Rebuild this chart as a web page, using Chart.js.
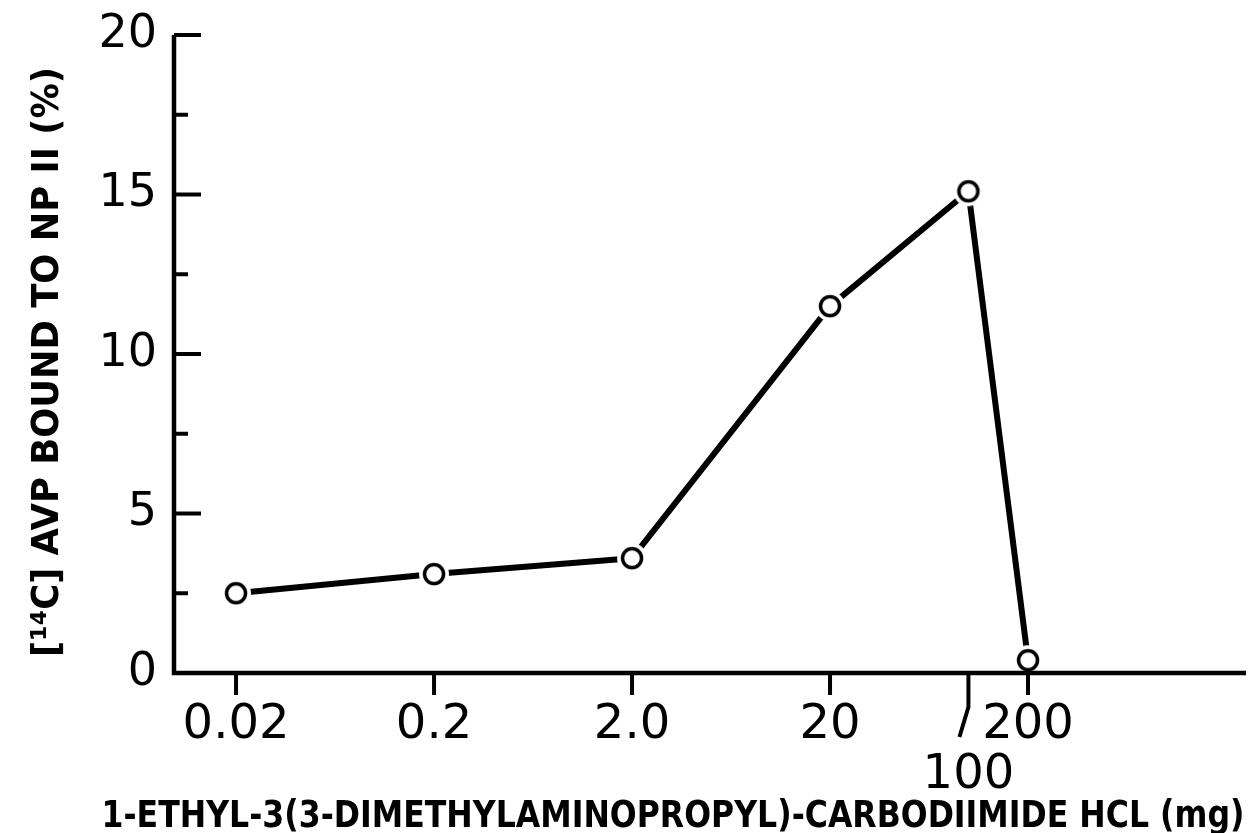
<!DOCTYPE html>
<html>
<head>
<meta charset="utf-8">
<script src="https://cdn.jsdelivr.net/npm/chart.js@4.4.1/dist/chart.umd.min.js"></script>
<style>
  html, body { margin: 0; padding: 0; background: #fff; overflow: hidden; }
  canvas { display: block; }
</style>
</head>
<body>
<canvas id="chart" width="1252" height="833"></canvas>
<script>
// carbodiimide dose (mg) vs % of [14C]AVP bound to NP II
const doses = [0.02, 0.2, 2.0, 20, 100, 200];
const boundPct = [2.5, 3.1, 3.6, 11.5, 15.1, 0.4];

const xTicks = [0.02, 0.2, 2.0, 20, 100, 200];
const xTickLabels = ['0.02', '0.2', '2.0', '20', ['', '100'], '200'];
const yTicks = [0, 2.5, 5, 7.5, 10, 12.5, 15, 17.5, 20];
const yTickLabels = ['0', '', '5', '', '10', '', '15', '', '20'];

const xTitle = '1-ETHYL-3(3-DIMETHYLAMINOPROPYL)-CARBODIIMIDE HCL (mg)';
const yTitle = '[¹⁴C] AVP BOUND TO NP II (%)';

// open circle with a white halo so the line stops short of it
function ringMarker() {
  const c = document.createElement('canvas');
  c.width = c.height = 32;
  const g = c.getContext('2d');
  g.fillStyle = '#fff';
  g.beginPath(); g.arc(16, 16, 15, 0, Math.PI * 2); g.fill();
  g.strokeStyle = '#000'; g.lineWidth = 3.5;
  g.beginPath(); g.arc(16, 16, 9.5, 0, Math.PI * 2); g.stroke();
  return c;
}

function fitText(ctx, text, width, font) {
  ctx.font = font;
  const w = ctx.measureText(text).width;
  ctx.scale(width / w, 1);
  ctx.textAlign = 'center';
  ctx.textBaseline = 'alphabetic';
  ctx.fillText(text, 0, 0);
}

// axes, inward y ticks, outward x ticks, the 100 leader and both titles
const handAxes = {
  id: 'handAxes',
  afterDatasetsDraw(chart) {
    const { ctx, chartArea: a, scales: { x, y } } = chart;
    ctx.save();
    ctx.strokeStyle = '#000';
    ctx.fillStyle = '#000';
    ctx.lineWidth = 4.5;
    ctx.lineJoin = 'miter';
    ctx.beginPath();
    ctx.moveTo(a.left, a.top);
    ctx.lineTo(a.left, a.bottom);
    ctx.lineTo(a.right, a.bottom);
    ctx.stroke();

    ctx.lineWidth = 4;
    yTicks.forEach(v => {
      if (v === 0) return;
      const py = y.getPixelForValue(v);
      const len = v % 5 === 0 ? 27 : 14;
      ctx.beginPath(); ctx.moveTo(a.left, py); ctx.lineTo(a.left + len, py); ctx.stroke();
    });

    xTicks.forEach(v => {
      const px = x.getPixelForValue(v);
      ctx.beginPath();
      ctx.moveTo(px, a.bottom);
      if (v === 100) {
        ctx.lineTo(px, a.bottom + 34);
        ctx.lineTo(px - 9, a.bottom + 64);
      } else {
        ctx.lineTo(px, a.bottom + 22);
      }
      ctx.stroke();
    });

    ctx.save();
    ctx.translate(673, 827);
    fitText(ctx, xTitle, 1143, 'bold 37px "DejaVu Sans"');
    ctx.restore();

    ctx.save();
    ctx.translate(58, 362);
    ctx.rotate(-Math.PI / 2);
    fitText(ctx, yTitle, 590, 'bold 38px "DejaVu Sans"');
    ctx.restore();

    ctx.restore();
  }
};

// keep the plot box fixed: no extra room reserved for edge labels
function fixBox(size) {
  return s => {
    if (s.isHorizontal()) s.height = size; else s.width = size;
    s.paddingLeft = s.paddingRight = s.paddingTop = s.paddingBottom = 0;
  };
}

new Chart(document.getElementById('chart'), {
  type: 'line',
  data: {
    datasets: [{
      data: doses.map((d, i) => ({ x: d, y: boundPct[i] })),
      borderColor: '#000',
      borderWidth: 6,
      borderJoinStyle: 'round',
      tension: 0,
      pointStyle: ringMarker(),
      pointRadius: 16,
      pointHoverRadius: 16
    }]
  },
  options: {
    responsive: false,
    animation: false,
    devicePixelRatio: 1,
    events: [],
    layout: { autoPadding: false, padding: { top: 35, right: 6, left: 0, bottom: 0 } },
    plugins: { legend: { display: false }, tooltip: { enabled: false } },
    scales: {
      x: {
        type: 'logarithmic',
        min: 0.00972,
        max: 2523,
        grid: { display: false, drawTicks: false },
        border: { display: false },
        afterBuildTicks: s => { s.ticks = xTicks.map(v => ({ value: v })); },
        afterFit: fixBox(160),
        ticks: {
          autoSkip: false, maxRotation: 0, minRotation: 0, padding: 27, color: '#000',
          font: { family: 'DejaVu Sans', size: 48, lineHeight: 1.05 },
          callback: (v, i) => xTickLabels[i]
        }
      },
      y: {
        min: 0,
        max: 20,
        grid: { display: false, drawTicks: false },
        border: { display: false },
        afterBuildTicks: s => { s.ticks = yTicks.map(v => ({ value: v })); },
        afterFit: fixBox(174),
        ticks: {
          autoSkip: false, padding: 17, color: '#000',
          font: { family: 'DejaVu Sans', size: 46 },
          callback: (v, i) => yTickLabels[i]
        }
      }
    }
  },
  plugins: [handAxes]
});
</script>
</body>
</html>
